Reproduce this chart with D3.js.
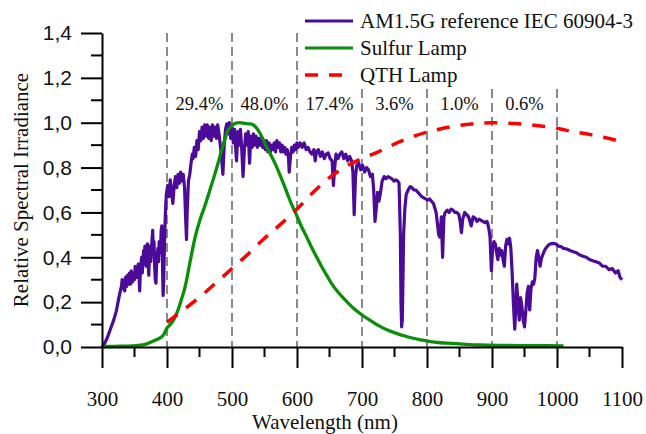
<!DOCTYPE html>
<html>
<head>
<meta charset="utf-8">
<script src="https://cdn.jsdelivr.net/npm/d3@7"></script>
<style>
  html, body { margin: 0; padding: 0; background: #fff; }
  svg { display: block; }
</style>
</head>
<body>
<svg id="chart" width="646" height="434"></svg>
<script>
// ---------- DATA ----------
// AM1.5G reference spectrum: [wavelength nm, relative irradiance]
const am15g = [
 [300,0.0],[303,0.01],[308,0.04],[313,0.08],[318,0.12],[322,0.16],[326,0.22],[329,0.26],
 [330,0.27],[331,0.3],[332,0.26],[333,0.29],[335,0.25],[336,0.31],[338,0.27],[339,0.32],
 [341,0.28],[342,0.33],[344,0.28],[345,0.34],[347,0.29],[348,0.33],[350,0.3],[351,0.36],
 [353,0.31],[354,0.35],[356,0.37],[357,0.31],[358,0.25],[359,0.34],[361,0.4],[362,0.33],
 [364,0.43],[365,0.37],[366,0.45],[368,0.36],[369,0.44],[370,0.46],[371,0.38],[372,0.32],
 [373,0.41],[374,0.45],[375,0.38],[377,0.48],[378,0.52],[379,0.42],[380,0.47],[381,0.36],
 [382,0.3],[383,0.285],[384,0.37],[386,0.44],[387,0.38],[388,0.47],[390,0.42],[391,0.52],
 [392,0.54],[393,0.38],[394,0.23],[395,0.3],[396,0.45],[397,0.55],[398,0.63],[399,0.68],
 [401,0.72],[403,0.67],[405,0.745],[407,0.69],[409,0.64],[411,0.72],[413,0.76],[415,0.71],
 [417,0.77],[419,0.73],[421,0.78],[423,0.74],[425,0.77],[427,0.71],[429,0.55],[430,0.48],
 [431,0.6],[433,0.74],[435,0.77],[437,0.82],[439,0.86],
 [440,0.84],[442,0.89],[444,0.85],[446,0.92],[448,0.88],[450,0.96],[452,0.92],[454,0.98],
 [456,0.93],[458,0.99],[460,0.94],[462,0.99],[464,0.93],[466,0.98],[468,0.92],[470,0.99],
 [472,0.94],[474,0.98],[476,0.93],[478,0.99],[480,0.95],[482,0.9],[484,0.84],[486,0.77],
 [488,0.9],[490,0.97],[492,0.995],[494,0.95],[496,1.0],[498,0.93],[500,0.98],[502,0.91],
 [504,0.97],[506,0.87],[507,0.83],[509,0.96],[511,0.9],[513,0.97],[515,0.88],[517,0.76],
 [519,0.88],[521,0.95],[523,0.9],[525,0.96],[527,0.82],[529,0.94],[531,0.89],[533,0.95],
 [535,0.9],[537,0.94],[539,0.89],[541,0.93],[543,0.9],[545,0.935],[547,0.89],[549,0.92],
 [551,0.88],[553,0.92],[555,0.87],[557,0.91],[559,0.87],[561,0.9],[563,0.88],[565,0.91],
 [567,0.87],[569,0.92],[571,0.89],[573,0.91],[575,0.87],[577,0.9],[579,0.87],[581,0.89],
 [583,0.86],[585,0.88],[587,0.84],[588,0.78],[590,0.85],[592,0.89],[594,0.87],[596,0.9],
 [598,0.88],[600,0.91],
 [602,0.89],[605,0.91],[608,0.89],[611,0.91],[614,0.88],[617,0.89],[620,0.87],[623,0.86],
 [626,0.88],[628,0.83],[630,0.87],[633,0.88],[636,0.85],[639,0.87],[642,0.84],[645,0.86],
 [648,0.865],[651,0.84],[654,0.83],[656,0.72],[658,0.8],[660,0.86],[663,0.84],[666,0.86],
 [669,0.87],[672,0.84],[675,0.86],[678,0.83],[681,0.85],[684,0.83],[686,0.78],[688,0.59],
 [690,0.76],[692,0.81],[695,0.82],[698,0.79],[701,0.81],[704,0.78],[707,0.8],[710,0.79],
 [713,0.76],[716,0.77],[718,0.7],[720,0.56],[722,0.62],[724,0.69],[726,0.65],[728,0.68],
 [731,0.74],[734,0.76],[737,0.75],[740,0.76],[743,0.755],[746,0.75],[749,0.74],[752,0.745],
 [755,0.74],[757,0.73],[759,0.5],[760,0.2],[761,0.09],[762,0.12],[763,0.3],[764,0.5],
 [766,0.62],[768,0.68],[771,0.7],[774,0.715],[777,0.71],[780,0.7],[783,0.7],[786,0.69],
 [789,0.68],[792,0.67],[795,0.665],[798,0.66],[801,0.655],[804,0.66],[807,0.65],[810,0.64],
 [812,0.62],[814,0.6],[816,0.55],[818,0.5],[820,0.49],[822,0.58],[824,0.4],[826,0.58],
 [828,0.6],[831,0.61],[834,0.6],[837,0.615],[840,0.61],[843,0.6],[846,0.6],[849,0.59],
 [851,0.56],[853,0.51],[855,0.57],[858,0.6],[861,0.59],[864,0.58],[866,0.56],[868,0.54],
 [871,0.58],[874,0.575],[877,0.56],[880,0.57],[883,0.565],[886,0.56],[889,0.555],[892,0.56],
 [893,0.555],[895,0.53],[897,0.49],[899,0.34],[901,0.44],[903,0.47],[905,0.46],[907,0.42],
 [909,0.39],[911,0.44],[913,0.41],[915,0.43],[917,0.39],[919,0.36],[921,0.45],[923,0.48],
 [925,0.46],[927,0.485],[929,0.44],[931,0.33],[933,0.19],[935,0.08],[937,0.2],[938,0.28],
 [940,0.2],[942,0.12],[944,0.22],[946,0.18],[948,0.12],[950,0.09],[952,0.16],[954,0.24],
 [956,0.27],[958,0.165],[960,0.26],[962,0.29],[964,0.28],[966,0.31],[968,0.4],[970,0.43],
 [972,0.4],[974,0.36],[976,0.395],[978,0.41],[981,0.432],[984,0.445],[987,0.455],[990,0.46],
 [994,0.462],[998,0.46],[1002,0.45],[1006,0.448],[1010,0.44],[1015,0.437],[1020,0.43],[1025,0.425],
 [1030,0.42],[1035,0.41],[1040,0.405],[1045,0.4],[1050,0.39],[1055,0.385],[1060,0.38],[1065,0.375],
 [1070,0.36],[1075,0.36],[1080,0.345],[1085,0.35],[1090,0.33],[1094,0.34],[1097,0.31],[1100,0.3]
];

const sulfurLamp = [
 [302,0.002],[320,0.003],[340,0.004],[360,0.008],[370,0.015],[380,0.028],[390,0.042],[395,0.055],
 [400,0.085],[405,0.1],[410,0.12],[417,0.165],[422,0.21],[428,0.27],[435,0.373],[443,0.487],
 [451,0.57],[459,0.635],[466,0.7],[474,0.774],[480,0.835],[484,0.878],[489,0.925],[494,0.967],
 [499,0.985],[505,0.997],[512,1.0],[520,0.997],[527,0.995],[533,0.99],[538,0.975],[543,0.953],
 [548,0.925],[553,0.893],[560,0.855],[566,0.82],[572,0.78],[579,0.73],[585,0.685],[591,0.64],
 [597,0.603],[607,0.536],[615,0.49],[622,0.447],[630,0.402],[638,0.358],[646,0.318],[653,0.284],
 [663,0.245],[674,0.21],[686,0.175],[699,0.145],[712,0.12],[727,0.093],[740,0.075],[753,0.061],
 [766,0.049],[779,0.039],[792,0.031],[805,0.024],[820,0.019],[840,0.016],[860,0.012],[880,0.009],
 [920,0.007],[960,0.006],[1010,0.005]
];

const qthLamp = [
 [400,0.11],[425,0.165],[450,0.222],[475,0.285],[500,0.35],[525,0.415],[550,0.485],[575,0.548],
 [600,0.615],[625,0.69],[650,0.755],[675,0.805],[700,0.84],[725,0.87],[750,0.905],[775,0.935],
 [800,0.958],[825,0.975],[850,0.988],[875,0.996],[900,1.0],[925,0.998],[950,0.993],[975,0.985],
 [1000,0.975],[1025,0.96],[1050,0.948],[1075,0.933],[1100,0.915]
];

const bandEdges  = [400,500,600,700,800,900,1000];
const bandLabels = ["29.4%","48.0%","17.4%","3.6%","1.0%","0.6%"];

const xTicks = [300,400,500,600,700,800,900,1000,1100];
const xMinor = [350,450,550,650,750,850,950,1050];
const yTicks = [0,0.2,0.4,0.6,0.8,1.0,1.2,1.4];
const yMinor = [0.1,0.3,0.5,0.7,0.9,1.1,1.3];

const seriesNames = ["AM1.5G reference IEC 60904-3","Sulfur Lamp","QTH Lamp"];
const seriesColors = ["#4b0a98","#0a8f0a","#ff0000"];

// ---------- CHART ----------
const svg = d3.select("#chart");
const serif = "'Liberation Serif','Times New Roman',serif";
const sans = "'Liberation Sans',Arial,sans-serif";

const x = d3.scaleLinear().domain([300,1100]).range([102,622]);
const y = d3.scaleLinear().domain([0,1.4]).range([347,33]);

// vertical dashed band lines
svg.append("g").selectAll("line").data(bandEdges).join("line")
  .attr("x1", d => x(d)).attr("x2", d => x(d))
  .attr("y1", y(1.4)).attr("y2", y(0))
  .attr("stroke", "#8a8a8a").attr("stroke-width", 2)
  .attr("stroke-dasharray", "9,5");

// band percent labels
svg.append("g").selectAll("text").data(bandLabels).join("text")
  .attr("x", (d,i) => (x(bandEdges[i]) + x(bandEdges[i+1]))/2)
  .attr("y", 110)
  .attr("text-anchor", "middle")
  .attr("font-family", serif).attr("font-size", 18.5)
  .attr("fill", "#111")
  .text(d => d);

const line = d3.line().x(d => x(d[0])).y(d => y(d[1]));
const smooth = d3.line().x(d => x(d[0])).y(d => y(d[1])).curve(d3.curveMonotoneX);

svg.append("path")
  .datum(am15g)
  .attr("d", line).attr("fill", "none")
  .attr("stroke", seriesColors[0]).attr("stroke-width", 3.2)
  .attr("stroke-linejoin", "round");

svg.append("path")
  .datum(sulfurLamp)
  .attr("d", smooth).attr("fill", "none")
  .attr("stroke", seriesColors[1]).attr("stroke-width", 3.3);

svg.append("path")
  .datum(qthLamp)
  .attr("d", smooth).attr("fill", "none")
  .attr("stroke", seriesColors[2]).attr("stroke-width", 3.5)
  .attr("stroke-dasharray", "13,11");

// legend (white box hides grid lines behind it)
const lg = svg.append("g");
lg.append("rect").attr("x", 300).attr("y", 0).attr("width", 346).attr("height", 88).attr("fill", "#fff");
const rowsY = [21, 48, 75];
seriesNames.forEach((name, i) => {
  lg.append("line")
    .attr("x1", 305).attr("x2", 353).attr("y1", rowsY[i]).attr("y2", rowsY[i])
    .attr("stroke", seriesColors[i]).attr("stroke-width", i === 2 ? 3.5 : 3.2)
    .attr("stroke-dasharray", i === 2 ? "13,11" : null);
  lg.append("text")
    .attr("x", 360).attr("y", rowsY[i] + 7)
    .attr("font-family", serif).attr("font-size", 21).attr("fill", "#111")
    .text(name);
});

// axes
const xAxis = svg.append("g").attr("transform", `translate(0,${y(0)})`)
  .call(d3.axisBottom(x).tickValues(xTicks).tickSize(21).tickSizeOuter(0).tickFormat(d3.format("d")));
xAxis.selectAll("text").attr("y", 44).attr("dy", "0.71em")
  .attr("font-family", serif).attr("font-size", 21).attr("fill", "#111");
svg.append("g").selectAll("line").data(xMinor).join("line")
  .attr("x1", d => x(d)).attr("x2", d => x(d)).attr("y1", y(0)).attr("y2", y(0) + 10)
  .attr("stroke", "#000").attr("stroke-width", 2);

const yAxis = svg.append("g").attr("transform", `translate(${x(300)},0)`)
  .call(d3.axisLeft(y).tickValues(yTicks).tickSize(21).tickSizeOuter(0)
    .tickFormat(d => d3.format(".1f")(d).replace(".", ",")));
yAxis.selectAll("text").attr("x", -30)
  .attr("font-family", sans).attr("font-size", 21).attr("fill", "#111");
svg.append("g").selectAll("line").data(yMinor).join("line")
  .attr("x1", x(300) - 11).attr("x2", x(300)).attr("y1", d => y(d)).attr("y2", d => y(d))
  .attr("stroke", "#000").attr("stroke-width", 2);

[xAxis, yAxis].forEach(a => {
  a.select(".domain").attr("stroke-width", 2);
  a.selectAll(".tick line").attr("stroke-width", 2);
});

// axis titles
svg.append("text")
  .attr("x", 325).attr("y", 429).attr("text-anchor", "middle")
  .attr("font-family", serif).attr("font-size", 21).attr("fill", "#111")
  .text("Wavelength (nm)");
svg.append("text")
  .attr("transform", "translate(28,190) rotate(-90)").attr("text-anchor", "middle")
  .attr("font-family", serif).attr("font-size", 21).attr("fill", "#111")
  .text("Relative Spectral Irradiance");
</script>
</body>
</html>
